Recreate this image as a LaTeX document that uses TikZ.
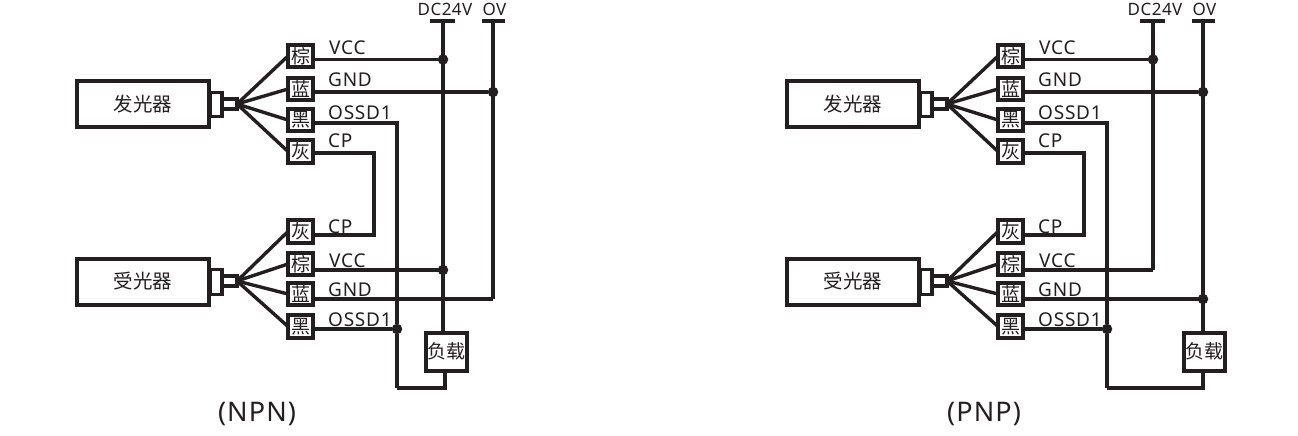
\documentclass[tikz,border=0pt]{standalone}
\usepackage{fontspec}
\setmainfont{Noto Sans}
\newfontfamily\cjkf{Noto Sans CJK SC}
\newfontfamily\latsm[LetterSpace=4]{Noto Sans}
\newfontfamily\latrl[LetterSpace=3]{Noto Sans}
\newfontfamily\latbg[LetterSpace=4]{Noto Sans}
\definecolor{ink}{HTML}{231F20}
\tikzset{
  x=1pt,y=-1pt,
  wire/.style={draw=ink,line width=3.4pt,line join=miter},
  unit/.style={draw=ink,line width=4pt,inner sep=0pt,outer sep=0pt,minimum width=132.5pt,minimum height=46pt,text=ink,font=\cjkf\fontsize{19.5}{20}\selectfont},
  plugA/.style={draw=ink,line width=3.4pt,inner sep=0pt,outer sep=0pt,minimum width=12pt,minimum height=24.5pt},
  plugB/.style={draw=ink,line width=3.4pt,inner sep=0pt,outer sep=0pt,minimum width=15pt,minimum height=10pt},
  term/.style={draw=ink,line width=4.2pt,inner sep=0pt,outer sep=0pt,minimum width=25pt,minimum height=22.5pt,text=ink,font=\cjkf\fontsize{19}{20}\selectfont},
  load/.style={draw=ink,line width=4pt,inner sep=0pt,outer sep=0pt,minimum width=41pt,minimum height=38pt,text=ink,font=\cjkf\fontsize{19}{20}\selectfont},
  sig/.style={anchor=base west,inner sep=0pt,text=ink,font=\latsm\fontsize{19}{20}\selectfont},
  rail/.style={anchor=base,inner sep=0pt,text=ink,font=\latrl\fontsize{17}{18}\selectfont},
  captitle/.style={anchor=base,inner sep=0pt,text=ink,font=\latbg\fontsize{27}{28}\selectfont},
  jdot/.style={circle,fill=ink,inner sep=0pt,outer sep=0pt,minimum size=10.5pt},
}
\newcommand{\panelbase}[3]{%
  % sensors
  \node[unit] (em) at (143,104) {发光器};
  \node[plugA] (emA) at (216,104.5) {};
  \node[plugB] (emB) at (229.5,104) {};
  \node[unit] (rc) at (143,281.5) {受光器};
  \node[plugA] (rcA) at (216,282) {};
  \node[plugB] (rcB) at (229.5,281) {};
  % terminals
  \node[term] (t1) at (300.5,56) {棕};
  \node[term] (t2) at (300.5,89) {蓝};
  \node[term] (t3) at (300.5,120) {黑};
  \node[term] (t4) at (300.5,151.5) {灰};
  \node[term] (b1) at (300.5,231.5) {灰};
  \node[term] (b2) at (300.5,264) {棕};
  \node[term] (b3) at (300.5,294) {蓝};
  \node[term] (b4) at (300.5,326.5) {黑};
  % fans
  \foreach \t in {t1,t2,t3,t4} {\draw[wire] (emB.east) -- (\t.west);}
  \foreach \t in {b1,b2,b3,b4} {\draw[wire] (rcB.east) -- (\t.west);}
  % labels
  \node[sig] (l1) at (329,55) {VCC};
  \node[sig] (l2) at (328,86) {GND};
  \node[sig] (l3) at (328,119) {OSSD1};
  \node[sig] (l4) at (328,147) {CP};
  \node[sig] (l5) at (328,233) {CP};
  \node[sig] (l6) at (329,267) {VCC};
  \node[sig] (l7) at (328,296) {GND};
  \node[sig] (l8) at (328,326) {OSSD1};
  % supply rails
  \node[rail] (dc) at (445,16) {DC24V};
  \node[rail] (ov) at (494.5,16) {OV};
  \coordinate (barA) at (443,21);
  \coordinate (barB) at (493,21);
  \coordinate (barAl) at (430,21);
  \coordinate (barAr) at (455,21);
  \coordinate (barBl) at (482,21);
  \coordinate (barBr) at (505,21);
  \draw[wire] (barAl) -- (barAr);
  \draw[wire] (barBl) -- (barBr);
  % CP link
  \coordinate (cpT) at (374,153);
  \coordinate (cpB) at (374,235);
  \draw[wire] (t4.east |- cpT) -- (cpT) -- (cpB) -- (b1.east |- cpB);
  % common junctions
  \coordinate (jVt) at (443,59.5);
  \coordinate (jGt) at (493,92);
  \coordinate (jVb) at (443,270);
  \coordinate (jGb) at (493,299);
  \coordinate (jOt) at (397,123);
  \node[jdot] (jOb) at (397,329) {};
  \node[jdot] (dV) at (jVt) {};
  \node[jdot] (dG) at (jGt) {};
  \draw[wire] (t1.east |- jVt) -- (dV);
  \draw[wire] (t2.east |- jGt) -- (dG);
  \draw[wire] (t3.east |- jOt) -- (jOt) -- (jOb);
  \draw[wire] (b2.east |- jVb) -- (jVb);
  \draw[wire] (b3.east |- jGb) -- (jGb);
  \draw[wire] (b4.east |- jOb) -- (jOb);
  \coordinate (jC) at (397,388);
  \draw[wire] (jOb) -- (jC);
  #1
  \node[captitle] (title) at (#3,421) {#2};
}
\begin{document}
\begin{tikzpicture}
\useasboundingbox (0,0) rectangle (1298,436);
\begin{scope}[name prefix=n-]
  \panelbase{
    \node[load] (ld) at (446,351.5) {负载};
    \node[jdot] (dVb) at (jVb) {};
    \draw[wire] (barA) -- (jVt) -- (jVb) -- (jVb |- ld.north);
    \draw[wire] (barB) -- (jGt) -- (jGb);
    \coordinate (jL) at (445,388);
    \draw[wire] (jL |- ld.south) -- (jL) -- (jC);
  }{(NPN)}{257}
\end{scope}
\begin{scope}[xshift=710pt,name prefix=p-]
  \panelbase{
    \node[load] (ld) at (494,351.5) {负载};
    \node[jdot] (dGb) at (jGb) {};
    \draw[wire] (barA) -- (jVt) -- (jVb);
    \draw[wire] (barB) -- (jGt) -- (jGb) -- (jGb |- ld.north);
    \coordinate (jL) at (493,388);
    \draw[wire] (jL |- ld.south) -- (jL) -- (jC);
  }{(PNP)}{274}
\end{scope}
\end{tikzpicture}
\end{document}
